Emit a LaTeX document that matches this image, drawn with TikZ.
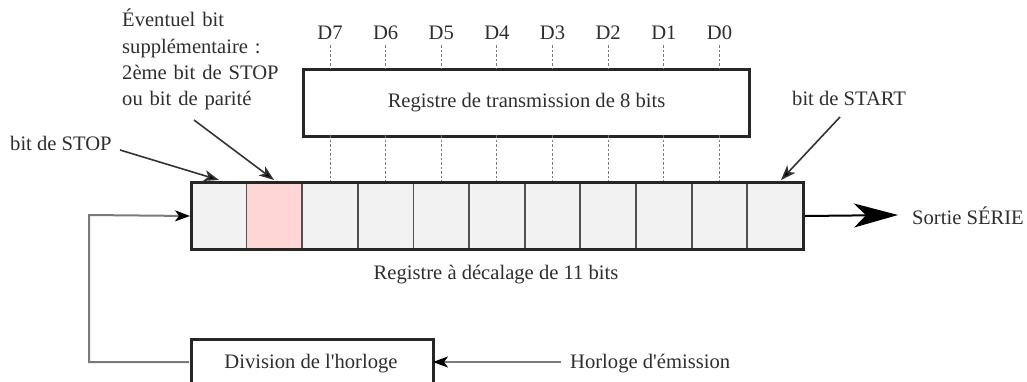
\documentclass[tikz,border=0pt]{standalone}
\usepackage{fontspec}
\setmainfont{Liberation Serif}[Ligatures=TeXOff]
\usetikzlibrary{arrows.meta,calc}
\definecolor{txt}{HTML}{2E2E2E}
\definecolor{cellgray}{HTML}{F2F2F2}
\definecolor{cellpink}{HTML}{FFD6D6}
\definecolor{wire}{HTML}{7A7A7A}
\definecolor{divider}{HTML}{505050}
\begin{document}
\begin{tikzpicture}[x=1pt,y=-1pt,
  every node/.style={font=\fontsize{20.6}{26}\selectfont, text=txt},
  cellbox/.style={draw=divider, line width=1.8pt, fill=cellgray, minimum width=55.64pt, minimum height=67pt, inner sep=0pt, anchor=north west},
  pinkcell/.style={cellbox, fill=cellpink},
  thickbox/.style={draw=black!85, line width=3pt, inner sep=0pt},
  dlabel/.style={anchor=base, inner sep=1pt},
  dashwire/.style={draw=wire, line width=1pt, dash pattern=on 2.5pt off 2pt},
  pointer/.style={draw=black!80, line width=1.6pt, -{Stealth[length=15pt,width=11pt,inset=4pt,fill=black]}},
  feed/.style={draw=wire, line width=2pt},
  feedarrow/.style={feed, -{Stealth[length=15pt,width=11pt,inset=4pt,fill=black,color=black]}},
  bigarrow/.style={draw=black, line width=2pt, -{Stealth[length=44pt,width=24pt,inset=12pt]}},
  lbl/.style={inner sep=0pt}
]
\useasboundingbox (0,0) rectangle (1027,381);
\clip (0,0) rectangle (1027,381);

% shift register cells
\foreach \i in {1,...,11}{
  \pgfmathsetmacro{\xx}{190+(\i-1)*55.64}
  \ifnum\i=2
    \node[pinkcell] (c\i) at (\xx,181) {};
  \else
    \node[cellbox] (c\i) at (\xx,181) {};
  \fi
}
\node[thickbox, minimum width=612pt, minimum height=67pt, anchor=north west] (reg) at (190,181) {};

% transmission register
\node[thickbox, minimum width=446pt, minimum height=67pt, anchor=north west] (tr) at (302,68) {};
\node[lbl] (trtext) at (tr.center) {Registre de transmission de 8 bits};

% data labels and dashed wires
\foreach \k/\c in {7/3,6/4,5/5,4/6,3/7,2/8,1/9,0/10}{
  \node[dlabel] (d\k) at ($(c\c.north)+(0,-142)$) {D\k};
  \draw[dashwire] ($(c\c.north)+(0,-136)$) -- ($(c\c.north)+(0,-113)$);
  \draw[dashwire] ($(c\c.north)+(0,-46)$) -- (c\c.north);
}

% labels
\node[lbl, anchor=base west] (stop) at (10,150) {bit de STOP};
\node[lbl, anchor=north west, align=left, text width=220pt] (extra) at (122,9) {\baselineskip=26.5pt Éventuel bit\\ supplémentaire :\\ 2ème bit de STOP\\ ou bit de parité};
\node[lbl, anchor=base west] (start) at (792,105) {bit de START};
\node[lbl, anchor=west] (sortie) at (912,216) {Sortie SÉRIE};
\node[lbl, anchor=base] (regtext) at (496,279) {Registre à décalage de 11 bits};

% clock division box
\node[thickbox, minimum width=242pt, minimum height=60pt, anchor=north west] (div) at (190,338) {};
\node[lbl, anchor=base] (divtext) at (311,368) {Division de l'horloge};
\node[lbl, anchor=base west] (clk) at (570,368) {Horloge d'émission};

% pointer arrows
\coordinate (stopA) at (120,150);
\coordinate (stopB) at (219,180);
\draw[pointer] (stopA) -- (stopB);
\coordinate (extA) at (194,120);
\coordinate (extB) at (274,180);
\draw[pointer] (extA) -- (extB);
\coordinate (startA) at (840,117);
\coordinate (startB) at (781,180);
\draw[pointer] (startA) -- (startB);

% serial out
\coordinate (outEnd) at (898,215);
\draw[bigarrow] (reg.east) -- (outEnd);

% clock wiring
\coordinate (clkA) at (561,362);
\coordinate (divR) at (433,362);
\coordinate (divL) at (189,362);
\draw[feedarrow] (clkA) -- (divR);
\coordinate (fb1) at (89,362);
\coordinate (fb2) at (89,215);
\draw[feedarrow] (divL) -- (fb1) -- (fb2) -- (reg.west);
\end{tikzpicture}
\end{document}
